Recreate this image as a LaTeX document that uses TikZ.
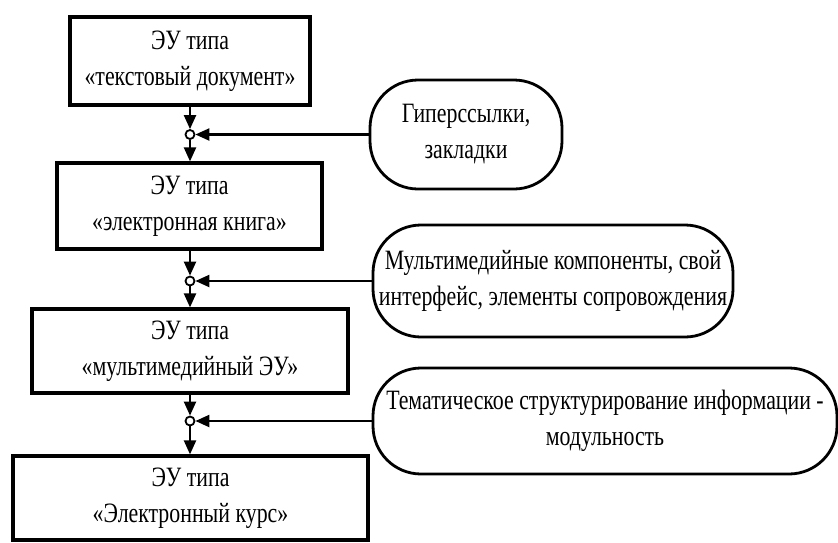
\documentclass[tikz,border=0pt]{standalone}
\usepackage{fontspec}
\setmainfont{Liberation Serif}[FakeStretch=0.78]
\usepackage{tikz}
\usetikzlibrary{arrows.meta}

\tikzset{
	eubox/.style = {draw, line width = 3.2pt, align = center, inner sep = 0pt, font = \fontsize{28}{36}\selectfont},
	addbox/.style = {draw, line width = 2.8pt, rounded corners = 48pt, align = center, inner sep = 0pt, font = \fontsize{28}{36}\selectfont},
	junc/.style = {draw, circle, line width = 1.8pt, minimum size = 9pt, inner sep = 0pt, fill = white},
	flow/.style = {line width = 2.2pt, -{Triangle[length = 14pt, width = 12pt]}}
}

\begin{document}
\begin{tikzpicture}[x = 1pt, y = -1pt]
		\useasboundingbox (0,0) rectangle (838,542);
		
		\node[eubox, minimum width = 240pt, minimum height = 88pt] (EU1) at (190,61) {ЭУ типа\\«текстовый документ»};
		\node[eubox, minimum width = 265pt, minimum height = 86pt] (EU2) at (189.5,206) {ЭУ типа\\«электронная книга»};
		\node[eubox, minimum width = 316pt, minimum height = 84pt] (EU3) at (190,351) {ЭУ типа\\«мультимедийный ЭУ»};
		\node[eubox, minimum width = 355pt, minimum height = 84pt] (EU4) at (190.5,498) {ЭУ типа\\«Электронный курс»};
		
		\node[addbox, minimum width = 192pt, minimum height = 109pt] (LINKS) at (466,134.5) {Гиперссылки,\\закладки};
		\node[addbox, minimum width = 360pt, minimum height = 112pt] (MEDIA) at (553,281) {Мультимедийные компоненты, свой\\интерфейс, элементы сопровождения};
		\node[addbox, minimum width = 464pt, minimum height = 106pt] (MODUL) at (605,421) {Тематическое структурирование информации -\\модульность};
		
		\node[junc] (J1) at (EU1.south |- LINKS.west) {};
		\node[junc] (J2) at (EU1.south |- MEDIA.west) {};
		\node[junc] (J3) at (EU1.south |- MODUL.west) {};
		
		\begin{scope}[flow]
			\draw (EU1.south) -- (J1.north);
			\draw (J1.south) -- (EU2.north -| J1);
			\draw (LINKS.west) -- (J1.east);
			
			\draw (EU2.south -| J2) -- (J2.north);
			\draw (J2.south) -- (EU3.north -| J2);
			\draw (MEDIA.west) -- (J2.east);
			
			\draw (EU3.south -| J3) -- (J3.north);
			\draw (J3.south) -- (EU4.north -| J3);
			\draw (MODUL.west) -- (J3.east);
		\end{scope}
	\end{tikzpicture}
\end{document}
